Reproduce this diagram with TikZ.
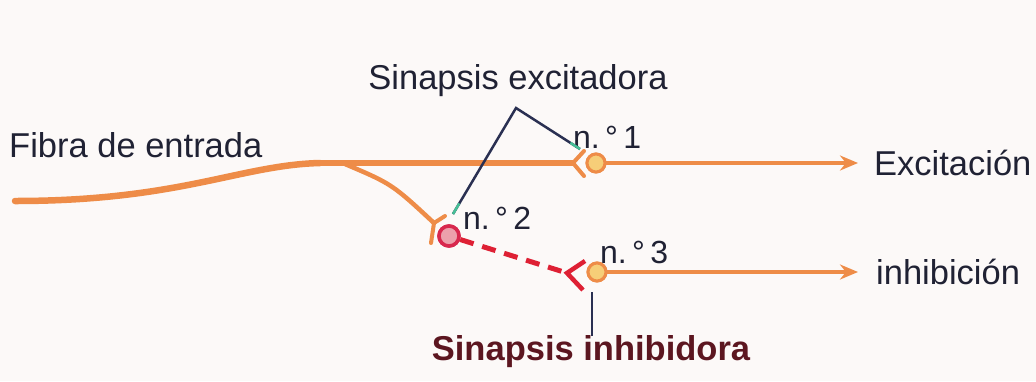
\documentclass[tikz,border=0pt]{standalone}
\usepackage{fontspec}
\setmainfont{Liberation Sans}
\usetikzlibrary{arrows.meta,calc}
\definecolor{fibra}{RGB}{238,140,72}
\definecolor{texto}{RGB}{32,34,52}
\definecolor{guia}{RGB}{42,48,82}
\definecolor{punta}{RGB}{70,190,150}
\definecolor{rojo}{RGB}{222,32,52}
\definecolor{granate}{RGB}{92,22,32}
\definecolor{fondo}{RGB}{252,249,248}
\tikzset{
  axon/.style={fibra,line width=5pt,line cap=round},
  syne/.style={circle,draw=fibra,fill={rgb,255:red,246;green,206;blue,120},line width=3pt,minimum size=18pt,inner sep=0pt},
  syni/.style={circle,draw={rgb,255:red,216;green,40;blue,78},fill={rgb,255:red,236;green,160;blue,172},line width=3.5pt,minimum size=20pt,inner sep=0pt},
  rotulo/.style={font=\fontsize{34.5}{40}\selectfont,text=texto,inner sep=0pt},
  numero/.style={font=\fontsize{32}{36}\selectfont,text=texto,inner sep=0pt},
  flecha/.style={-{Stealth[length=18pt,width=15pt]}}
}
\begin{document}
\begin{tikzpicture}[x=1pt,y=-1pt]
\fill[fondo] (0,0) rectangle (1036,381);
\useasboundingbox (0,0) rectangle (1036,381);
% neuronas de salida
\node[syne] (s1) at (596,163) {};
\node[syni] (s2) at (449,236) {};
\node[syne] (s3) at (597,272) {};
\coordinate (in0) at (15,201); \coordinate (bend) at (320,163);
\coordinate (br) at (345,164);
\coordinate (f1) at (573,163); \coordinate (f2) at (434,223); \coordinate (f3) at (567,273);
\coordinate (o1) at (858,163); \coordinate (o3) at (858,272);
% fibra de entrada y rama
\draw[axon,line width=6.5pt] (in0) .. controls (180,201) and (240,165) .. (bend);
\draw[axon,line width=5.5pt] (bend) -- (f1);
\draw[axon,line width=4pt] (f1) -- (584,151) (f1) -- (584,176);
\draw[axon,line width=4.5pt] (br) .. controls (392,184) .. (f2);
\draw[axon,line width=4pt] (445,216) -- (f2) -- (431,243);
% via inhibidora
\draw[rojo,line width=5pt,dash pattern=on 14pt off 9pt] (s2) -- (f3);
\draw[rojo,line width=4.5pt] (585,261) -- (f3) -- (583,290);
% axones de salida
\draw[axon,line width=4.5pt,flecha] (s1.east) -- (o1);
\draw[axon,line width=4.5pt,flecha] (s3.east) -- (o3);
\node[syne] at (s1) {}; \node[syni] at (s2) {}; \node[syne] at (s3) {};
% textos
\node[rotulo,anchor=west] (fib) at (9,145) {Fibra de entrada};
\node[rotulo] (exc) at (518,81) {Sinapsis excitadora};
\node[rotulo,anchor=west] (sal1) at (874,163) {Excitación};
\node[rotulo,anchor=west] (sal3) at (876,272) {inhibición};
\node[rotulo,font=\fontsize{34.5}{40}\selectfont\bfseries,text=granate] (inh) at (591,352) {Sinapsis inhibidora};
\node[numero,anchor=west] (n1) at (573,137) {n.\,°\,1};
\node[numero,anchor=west] (n2) at (463,218) {n.\,°\,2};
\node[numero,anchor=west] (n3) at (600,252) {n.\,°\,3};
% lineas guia
\coordinate (ap) at (516,108);
\draw[guia,line width=2.5pt] (453,214) -- (ap) -- (580,149);
\draw[punta,line width=2.5pt] ($(ap)!0.9!(453,214)$) -- (453,214);
\draw[punta,line width=2.5pt] ($(ap)!0.85!(580,149)$) -- (580,149);
\draw[guia,line width=2.5pt] (592,292) -- (inh.north -| 592,0);
\end{tikzpicture}
\end{document}
